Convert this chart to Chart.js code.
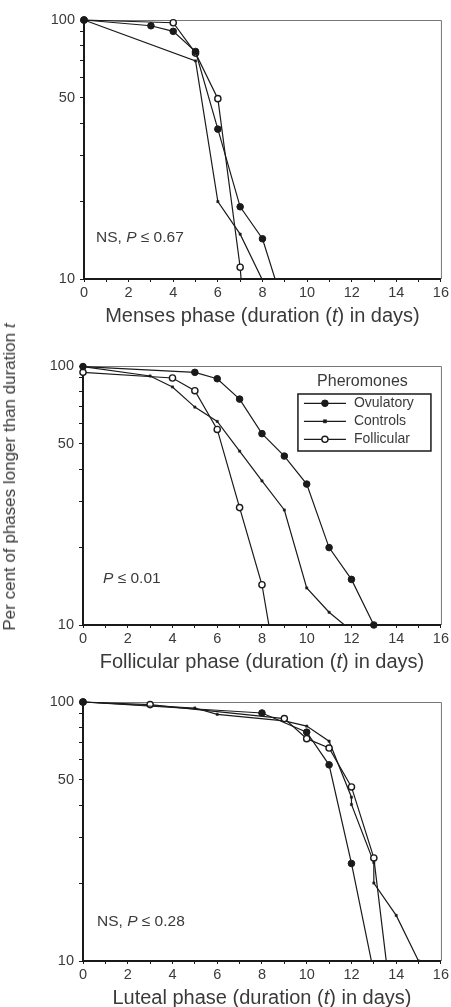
<!DOCTYPE html>
<html>
<head>
<meta charset="utf-8">
<script src="https://cdn.jsdelivr.net/npm/chart.js@4.4.0/dist/chart.umd.min.js"></script>
<style>
html, body { margin: 0; padding: 0; overflow: hidden; background: #fff; }
body { width: 451px; height: 1007px; position: relative; font-family: "Liberation Sans", Arial, sans-serif; }
.panel { position: absolute; left: 0; width: 451px; height: 331px; }
#ylabel { position: absolute; left: 10px; top: 477px; transform: translate(-50%, -50%) rotate(-90deg);
  white-space: nowrap; font-size: 17px; color: #3a3a3a; }
</style>
</head>
<body>
<div class="panel" style="top:0px"><canvas id="menses"></canvas></div>
<div class="panel" style="top:346px"><canvas id="follicular"></canvas></div>
<div class="panel" style="top:682px"><canvas id="luteal"></canvas></div>
<div id="ylabel">Per cent of phases longer than duration <i>t</i></div>
<script>
// axis values
const yTicks = [10, 20, 30, 40, 50, 60, 70, 80, 90, 100];
const yTickLabels = [10, 50, 100];
const seriesNames = ['Ovulatory', 'Controls', 'Follicular'];

// menses phase
const mensesOvulatoryDays = [0, 3, 4, 5, 6, 7, 8, 9];
const mensesOvulatory = [100, 95, 90.4, 75.6, 37.9, 19, 14.3, 7.6];
const mensesControlsDays = [0, 5, 6, 7, 8];
const mensesControls = [100, 69.5, 19.9, 14.9, 9.9];
const mensesFollicularDays = [0, 4, 5, 6, 7, 8];
const mensesFollicular = [100, 97.6, 74.5, 49.7, 11.1, 0.9];

// follicular phase
const follOvulatoryDays = [0, 5, 6, 7, 8, 9, 10, 11, 12, 13];
const follOvulatory = [99.5, 94.5, 89.3, 74.5, 54.8, 44.9, 35, 19.9, 15, 10];
const follControlsDays = [0, 3, 4, 5, 6, 7, 8, 9, 10, 11, 12];
const follControls = [99.5, 91.5, 83, 69.4, 61.1, 46.9, 36, 27.8, 13.9, 11.2, 9.5];
const follFollicularDays = [0, 4, 5, 6, 7, 8, 9];
const follFollicular = [94.5, 89.9, 80.3, 56.9, 28.4, 14.3, 4.5];

// luteal phase
const lutOvulatoryDays = [0, 8, 10, 11, 12, 13];
const lutOvulatory = [100, 90.7, 76.5, 57.2, 23.8, 9];
const lutControlsDays = [0, 5, 6, 9, 10, 11, 12, 12, 13, 13, 14, 15];
const lutControls = [100, 94.8, 89.6, 84.5, 80.7, 70.6, 42.9, 40.2, 24, 20, 15, 10];
const lutFollicularDays = [0, 3, 9, 10, 11, 12, 13, 14];
const lutFollicular = [100, 97.7, 86.3, 72.2, 66.4, 47, 25, 4.8];

const FONT = '"Liberation Sans", Arial, sans-serif';
const INK = '#1a1a1a';
const TEXT = '#3a3a3a';

const styles = [
    { pointStyle: 'circle', pointRadius: 3.3, pointBackgroundColor: INK, pointBorderColor: INK, pointBorderWidth: 1 },
    { pointStyle: 'rect', pointRadius: 1.6, pointBackgroundColor: INK, pointBorderColor: INK, pointBorderWidth: 0.5 },
    { pointStyle: 'circle', pointRadius: 3.1, pointBackgroundColor: '#fff', pointBorderColor: INK, pointBorderWidth: 1.4 }
];

function series(i, days, pct, clipBottom) {
    return Object.assign({
        label: seriesNames[i],
        data: days.map((d, k) => ({ x: d, y: pct[k] })),
        borderColor: INK,
        borderWidth: 1.2,
        tension: 0,
        clip: { left: false, top: false, right: false, bottom: clipBottom }
    }, styles[i]);
}

function drawParts(ctx, parts, x, y, size, align) {
    const fonts = parts.map(p => (p[1] ? 'italic ' : '') + size + 'px ' + FONT);
    const widths = parts.map((p, i) => { ctx.font = fonts[i]; return ctx.measureText(p[0]).width; });
    const total = widths.reduce((a, b) => a + b, 0);
    let cx = align === 'center' ? x - total / 2 : x;
    ctx.textAlign = 'left';
    ctx.textBaseline = 'middle';
    ctx.fillStyle = TEXT;
    parts.forEach((p, i) => {
        ctx.font = fonts[i];
        ctx.fillText(p[0], cx, y);
        cx += widths[i];
    });
}

const extras = {
    id: 'extras',
    beforeDatasetsDraw(chart) {
        const a = chart.chartArea;
        const ctx = chart.ctx;
        ctx.save();
        ctx.strokeStyle = '#777';
        ctx.lineWidth = 1;
        ctx.beginPath();
        ctx.moveTo(a.left, a.top + 0.5);
        ctx.lineTo(a.right + 0.5, a.top + 0.5);
        ctx.lineTo(a.right + 0.5, a.bottom);
        ctx.stroke();
        ctx.restore();
    },
    afterDraw(chart, args, opts) {
        const a = chart.chartArea;
        const ctx = chart.ctx;
        ctx.save();
        drawParts(ctx, opts.title, (a.left + a.right) / 2, a.bottom + 37, 20, 'center');
        drawParts(ctx, opts.note, a.left + opts.noteX, a.top + opts.noteY, 15.5, 'left');
        if (opts.legend) {
            const bx = a.right - 143, by = a.top + 28, bw = 133, bh = 57;
            ctx.strokeStyle = INK;
            ctx.lineWidth = 1.5;
            ctx.strokeRect(bx, by, bw, bh);
            drawParts(ctx, [['Pheromones', false]], bx + bw / 2 - 2, a.top + 15.7, 16, 'center');
            seriesNames.forEach((name, i) => {
                const y = by + 9.3 + 18 * i;
                const s = styles[i];
                ctx.strokeStyle = INK;
                ctx.lineWidth = 1.2;
                ctx.beginPath();
                ctx.moveTo(bx + 6, y);
                ctx.lineTo(bx + 48, y);
                ctx.stroke();
                ctx.fillStyle = s.pointBackgroundColor;
                ctx.strokeStyle = s.pointBorderColor;
                ctx.lineWidth = s.pointBorderWidth;
                ctx.beginPath();
                if (s.pointStyle === 'rect') {
                    ctx.rect(bx + 27 - s.pointRadius, y - s.pointRadius, s.pointRadius * 2, s.pointRadius * 2);
                } else {
                    ctx.arc(bx + 27, y, s.pointRadius, 0, Math.PI * 2);
                }
                ctx.fill();
                ctx.stroke();
                drawParts(ctx, [[name, false]], bx + 56, y, 14, 'left');
            });
        }
        ctx.restore();
    }
};

function makeChart(id, datasets, leftWidth, rightPad, extraOpts) {
    return new Chart(document.getElementById(id), {
        type: 'line',
        data: { datasets },
        plugins: [extras],
        options: {
            responsive: true,
            maintainAspectRatio: false,
            animation: false,
            events: [],
            layout: { padding: { top: 20, right: rightPad, left: 0, bottom: 0 } },
            plugins: { legend: { display: false }, tooltip: { enabled: false }, extras: extraOpts },
            scales: {
                x: {
                    type: 'linear', min: 0, max: 16,
                    afterFit: s => { s.height = 52; },
                    ticks: {
                        stepSize: 1, autoSkip: false, maxRotation: 0, padding: 2,
                        font: { family: FONT, size: 14.5 }, color: TEXT,
                        callback: v => (v % 2 === 0 ? String(v) : '')
                    },
                    grid: { drawOnChartArea: false, tickLength: 3, tickColor: INK, tickWidth: 1 },
                    border: { color: INK, width: 2 }
                },
                y: {
                    type: 'logarithmic', min: 10, max: 100,
                    afterFit: s => { s.width = leftWidth; },
                    afterBuildTicks: s => { s.ticks = yTicks.map(v => ({ value: v })); },
                    ticks: {
                        padding: 5, font: { family: FONT, size: 14.5 }, color: TEXT,
                        callback: v => (yTickLabels.includes(v) ? String(v) : '')
                    },
                    grid: { drawOnChartArea: false, tickLength: 4, tickColor: INK, tickWidth: 1 },
                    border: { color: INK, width: 2 }
                }
            }
        }
    });
}

makeChart('menses', [
    series(0, mensesOvulatoryDays, mensesOvulatory, 0),
    series(2, mensesFollicularDays, mensesFollicular, 0),
    series(1, mensesControlsDays, mensesControls, 0)
], 84, 8, {
    title: [['Menses phase (duration (', false], ['t', true], [') in days)', false]],
    note: [['NS, ', false], ['P', true], [' \u2264 0.67', false]], noteX: 12, noteY: 218,
    legend: false
});

makeChart('follicular', [
    series(0, follOvulatoryDays, follOvulatory, false),
    series(2, follFollicularDays, follFollicular, 0),
    series(1, follControlsDays, follControls, 0)
], 83, 9, {
    title: [['Follicular phase (duration (', false], ['t', true], [') in days)', false]],
    note: [['P', true], [' \u2264 0.01', false]], noteX: 20, noteY: 213,
    legend: true
});

makeChart('luteal', [
    series(0, lutOvulatoryDays, lutOvulatory, 0),
    series(2, lutFollicularDays, lutFollicular, 0),
    series(1, lutControlsDays, lutControls, 0)
], 83, 9, {
    title: [['Luteal phase (duration (', false], ['t', true], [') in days)', false]],
    note: [['NS, ', false], ['P', true], [' \u2264 0.28', false]], noteX: 14, noteY: 220,
    legend: false
});
</script>
</body>
</html>
